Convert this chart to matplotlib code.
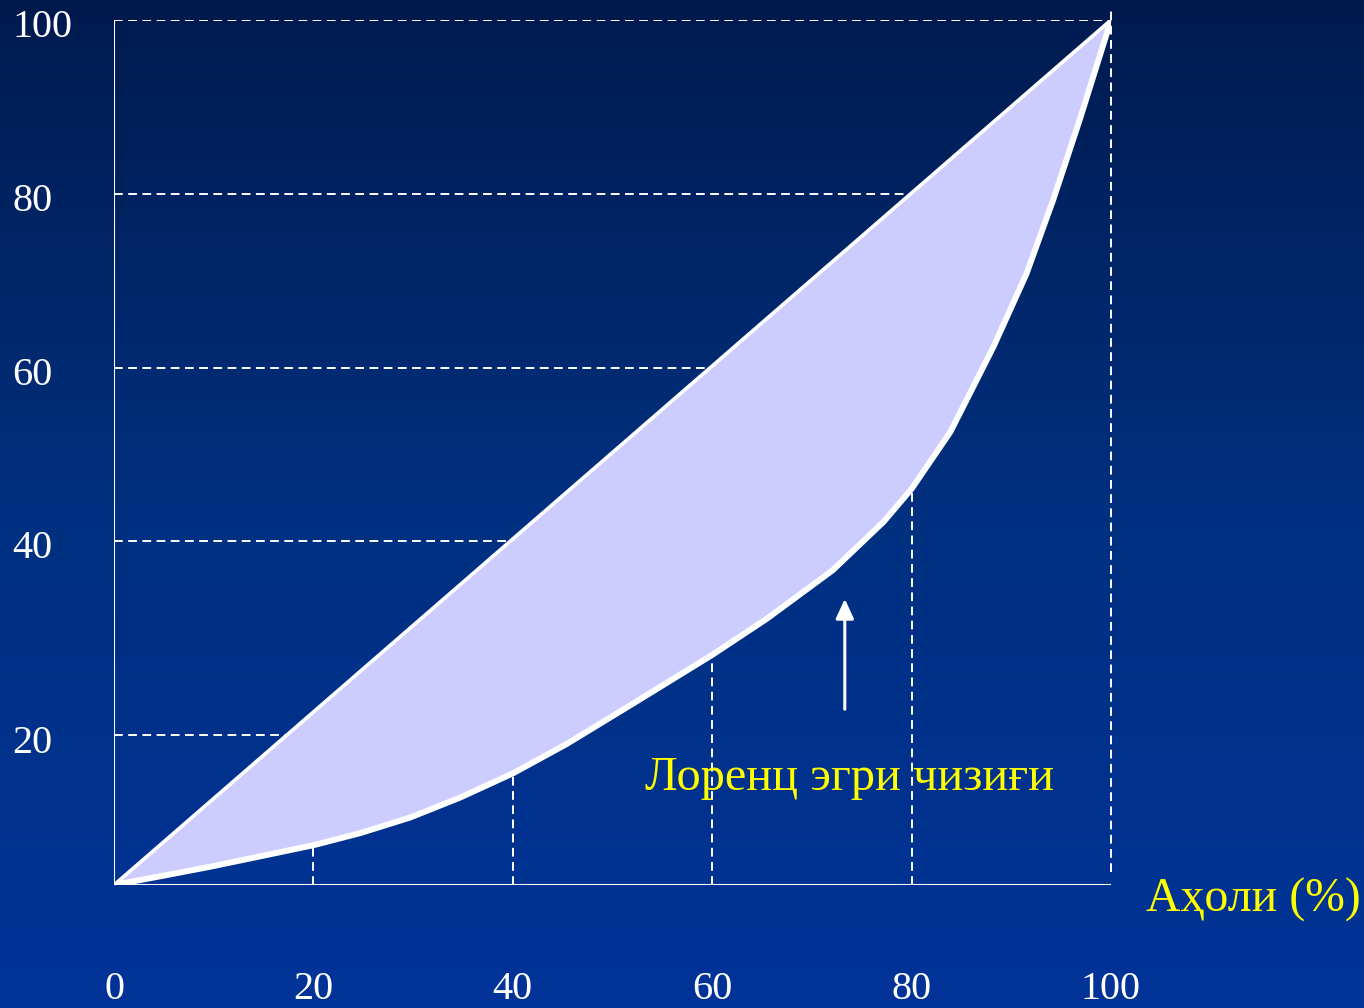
import matplotlib.pyplot as plt
import numpy as np
from matplotlib.colors import LinearSegmentedColormap

# Lorenz curve (population %, income %)
pop = [0, 4.6, 9.6, 14.6, 20, 24.7, 29.7, 34.7, 40, 45.4, 52.1, 60, 65.5,
       72.1, 77.2, 80, 83.9, 88.2, 91.5, 94.2, 96.9, 100]
income = [0, 1.0, 2.1, 3.3, 4.6, 6.0, 7.8, 10.1, 12.9, 16.3, 21.0, 26.6, 30.8,
          36.4, 42.0, 45.8, 52.4, 62.2, 70.6, 79.2, 88.6, 100]

x_ticks = [20, 40, 60, 80]
x_labels = ['0', '20', '40', '60', '80', '100']
# the original slide has its horizontal guide lines at these heights
y_grid = [17.3, 39.8, 59.8, 79.9, 100]
y_labels = ['20', '40', '60', '80', '100']

serif = ['Liberation Serif', 'DejaVu Serif']

fig = plt.figure(figsize=(13.64, 10.08), dpi=100)

# gradient background
bg = fig.add_axes([0, 0, 1, 1], zorder=0)
cmap = LinearSegmentedColormap.from_list('bg', ['#001a4e', '#00307f', '#003399'])
bg.imshow(np.linspace(0, 1, 256).reshape(-1, 1), aspect='auto', cmap=cmap,
          extent=[0, 1, 0, 1])
bg.axis('off')

ax = fig.add_axes([114 / 1364, 123 / 1008, 997 / 1364, 865 / 1008], zorder=1)
ax.patch.set_alpha(0)
ax.set_xlim(0, 100)
ax.set_ylim(0, 100)
ax.axis('off')

dash = dict(color='white', lw=1.4, dashes=(4.5, 2.8), zorder=2)

# horizontal guides from the axis to the diagonal
for g in y_grid[:-1]:
    ax.plot([0, g], [g, g], **dash)
ax.plot([0, 100], [100, 100], **dash)

# vertical guides from the axis to the curve
for t in x_ticks:
    ax.plot([t, t], [0, np.interp(t, pop, income)], **dash)
ax.plot([100, 100], [1.5, 101.4], clip_on=False, **dash)

# area between equality line and Lorenz curve
ax.fill_between(pop, pop, income, color='#ccccff', lw=0, zorder=3)
ax.plot([0, 100], [0, 100], color='white', lw=2.6, zorder=4)
ax.plot(pop, income, color='white', lw=4.3, zorder=5,
        solid_capstyle='round', solid_joinstyle='round')

# axes
ax.plot([0, 0], [0, 100], color='white', lw=1.5, zorder=4)
ax.plot([0, 100], [0, 0], color='white', lw=1.5, zorder=4)

for g, lab in zip(y_grid, y_labels):
    ax.text(-10.2, g - 2.0, lab, color='white', fontsize=29, family=serif,
            ha='left', va='baseline', clip_on=False)
for i, lab in enumerate(x_labels):
    ax.text(i * 20, -13.2, lab, color='white', fontsize=29, family=serif,
            ha='center', va='baseline', clip_on=False)

ax.annotate('', xy=(73.3, 33.4), xytext=(73.3, 20.0),
            arrowprops=dict(arrowstyle='-|>,head_length=1.2,head_width=0.55',
                            color='white', lw=2.2))

ax.text(53.3, 11.0, 'Лоренц эгри чизиғи', color='#ffff00', fontsize=34.8,
        family=serif, ha='left', va='baseline', zorder=6)
ax.text(103.5, -3.1, 'Аҳоли (%)', color='#ffff00', fontsize=34.4,
        family=serif, ha='left', va='baseline', clip_on=False)

plt.savefig('out.png', dpi=100)
plt.close()
